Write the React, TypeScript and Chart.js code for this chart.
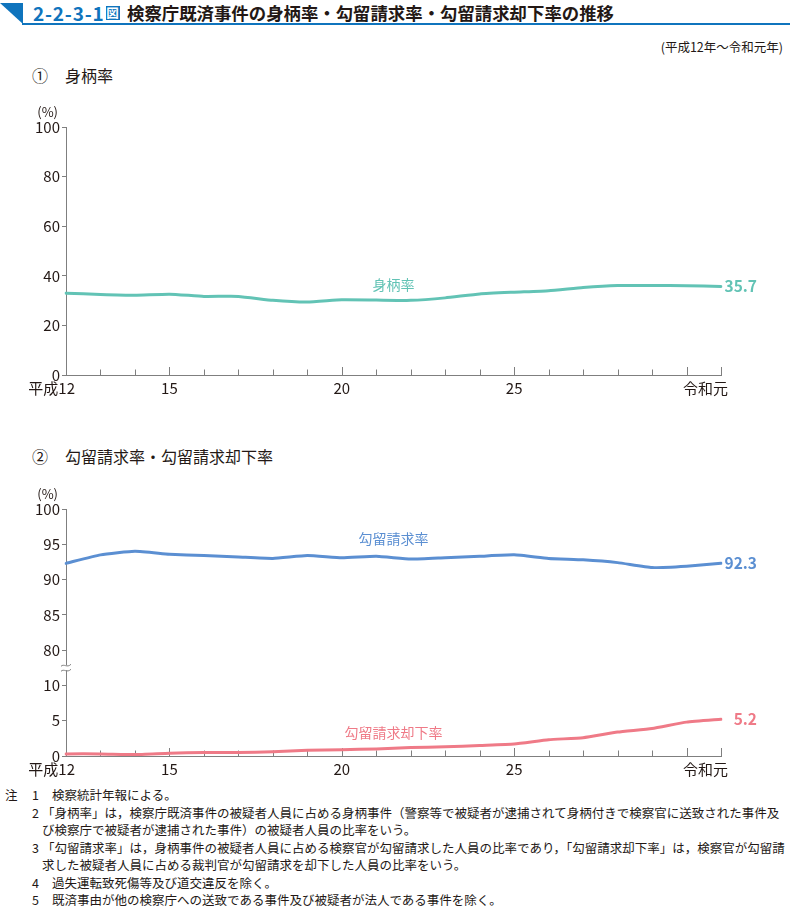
import React, { useEffect, useRef } from 'react';
import { Chart, registerables } from 'chart.js';

Chart.register(...registerables);

// ---- data ----
const categories = ['平成12', '13', '14', '15', '16', '17', '18', '19', '20', '21', '22', '23', '24', '25', '26', '27', '28', '29', '30', '令和元'];
const shownTickLabels = ['平成12', '15', '20', '25', '令和元'];
const majorTicks = ['15', '20', '25', '30', '令和元'];

const mibaraRate = [33.0, 32.5, 32.2, 32.6, 31.7, 31.7, 30.1, 29.4, 30.3, 30.2, 30.1, 31.1, 32.7, 33.4, 34.0, 35.3, 36.1, 36.1, 36.0, 35.7];
const kouryuRate = [92.3, 93.5, 94.0, 93.6, 93.4, 93.2, 93.0, 93.4, 93.1, 93.3, 92.9, 93.1, 93.3, 93.5, 93.0, 92.8, 92.4, 91.7, 91.9, 92.3];
const kyakkaRate = [0.3, 0.3, 0.2, 0.4, 0.5, 0.5, 0.6, 0.8, 0.9, 1.0, 1.2, 1.3, 1.5, 1.7, 2.3, 2.6, 3.4, 3.9, 4.8, 5.2];

const yTicksChart1 = [0, 20, 40, 60, 80, 100];
const yTicksUpper = [80, 85, 90, 95, 100];
const yTicksLower = [0, 5, 10];

const notes = [
  ['注', '1', '検察統計年報による。'],
  ['', '2', '「身柄率」は，検察庁既済事件の被疑者人員に占める身柄事件（警察等で被疑者が逮捕されて身柄付きで検察官に送致された事件及'],
  ['', '', 'び検察庁で被疑者が逮捕された事件）の被疑者人員の比率をいう。'],
  ['', '3', '「勾留請求率」は，身柄事件の被疑者人員に占める検察官が勾留請求した人員の比率であり，「勾留請求却下率」は，検察官が勾留請'],
  ['', '', '求した被疑者人員に占める裁判官が勾留請求を却下した人員の比率をいう。'],
  ['', '4', '過失運転致死傷等及び道交違反を除く。'],
  ['', '5', '既済事由が他の検察庁への送致である事件及び被疑者が法人である事件を除く。'],
];

// ---- style ----
const FONT = "'Noto Sans CJK JP', 'Noto Sans', sans-serif";
const TEAL = '#62c3b5';
const BLUE = '#5b8fd2';
const PINK = '#ef7a87';
const AXIS = '#7f7f7f';
const TEXT = '#231815';
const HEAD = '#0f74bd';

const decoPlugin = {
  id: 'deco',
  beforeDatasetsDraw(chart: any) {
    const ctx = chart.ctx;
    const x = chart.scales.x;
    const yb = chart.chartArea.bottom;
    ctx.save();
    ctx.strokeStyle = AXIS;
    ctx.lineWidth = 1;
    categories.forEach((c, i) => {
      if (i === 0) return;
      const px = Math.round(x.getPixelForValue(i)) + 0.5;
      const len = majorTicks.includes(c) ? 8 : 5.5;
      ctx.beginPath();
      ctx.moveTo(px, yb);
      ctx.lineTo(px, yb - len);
      ctx.stroke();
    });
    ctx.restore();
  },
  afterDraw(chart: any) {
    const ctx = chart.ctx;
    const x = chart.scales.x;
    const area = chart.chartArea;
    const yb = area.bottom;
    const opts = chart.options.plugins.deco || {};
    ctx.save();
    // x labels
    ctx.fillStyle = TEXT;
    ctx.font = `15px ${FONT}`;
    ctx.textBaseline = 'middle';
    categories.forEach((c, i) => {
      if (!shownTickLabels.includes(c)) return;
      const px = x.getPixelForValue(i);
      if (i === 0) {
        ctx.textAlign = 'right';
        ctx.fillText(c, px + 9, yb + 13);
      } else if (i === categories.length - 1) {
        ctx.textAlign = 'right';
        ctx.fillText(c, px + 7, yb + 13);
      } else {
        ctx.textAlign = 'center';
        ctx.fillText(c, px, yb + 13);
      }
    });
    // (%) unit
    ctx.font = `13px ${FONT}`;
    ctx.textAlign = 'right';
    ctx.fillText('(%)', 58, area.top - 15);

    // series labels
    (opts.labels || []).forEach((l: any) => {
      const sc = chart.scales[l.axis];
      ctx.fillStyle = l.color;
      ctx.font = `14px ${FONT}`;
      ctx.textAlign = 'center';
      ctx.fillText(l.text, x.getPixelForValue(l.xIndex), sc.getPixelForValue(l.yValue));
    });

    // end values
    chart.data.datasets.forEach((ds: any) => {
      const sc = chart.scales[ds.yAxisID || 'y'];
      const last = ds.data.length - 1;
      const px = x.getPixelForValue(last);
      ctx.fillStyle = ds.borderColor;
      ctx.font = `600 15.5px ${FONT}`;
      ctx.textAlign = 'right';
      ctx.fillText(ds.data[last].toFixed(1), px + 36, sc.getPixelForValue(ds.data[last]));
    });

    // axis break mark
    if (opts.breakAxis) {
      const up = chart.scales[opts.breakAxis];
      const by = up.bottom;
      const ax = area.left;
      ctx.fillStyle = '#ffffff';
      ctx.fillRect(ax - 5, by - 2.5, 11, 5);
      ctx.strokeStyle = AXIS;
      ctx.lineWidth = 1;
      [-2.5, 2.5].forEach((d) => {
        ctx.beginPath();
        ctx.moveTo(ax - 5, by + d + 1);
        ctx.bezierCurveTo(ax - 2, by + d - 2, ax + 1, by + d + 3, ax + 5, by + d - 1);
        ctx.stroke();
      });
    }
    ctx.restore();
  },
};

function yAxis(ticks: number[], min: number, max: number, extra: any = {}) {
  return {
    min,
    max,
    position: 'left',
    afterBuildTicks: (s: any) => {
      s.ticks = ticks.map((v) => ({ value: v }));
    },
    afterFit: (s: any) => {
      s.width = 66;
    },
    ticks: { font: { family: FONT, size: 15 }, color: TEXT, padding: 2 },
    grid: { display: true, drawOnChartArea: false, drawTicks: true, tickLength: 4, color: AXIS, lineWidth: 1 },
    border: { display: true, color: AXIS, width: 1 },
    ...extra,
  };
}

function xAxis(h: number) {
  return {
    type: 'category',
    offset: false,
    ticks: { display: false },
    grid: { display: false },
    border: { display: true, color: AXIS, width: 1 },
    afterFit: (s: any) => {
      s.height = h;
    },
  };
}

const lineStyle = {
  borderWidth: 3,
  pointRadius: 0,
  tension: 0.15,
  borderJoinStyle: 'round',
  borderCapStyle: 'round',
  fill: false,
};

function ChartCanvas({ config, width, height }: { config: () => any; width: number; height: number }) {
  const ref = useRef<HTMLCanvasElement>(null);
  useEffect(() => {
    const chart = new Chart(ref.current as HTMLCanvasElement, config());
    return () => chart.destroy();
  }, []);
  return <canvas ref={ref} width={width} height={height} style={{ width, height, display: 'block' }} />;
}

const chart1Config = () => ({
  type: 'line',
  data: {
    labels: categories,
    datasets: [{ label: '身柄率', data: mibaraRate, borderColor: TEAL, yAxisID: 'y', ...lineStyle }],
  },
  options: {
    animation: false,
    responsive: false,
    devicePixelRatio: 1,
    layout: { padding: { top: 27, right: 69, left: 0, bottom: 0 } },
    plugins: {
      legend: { display: false },
      tooltip: { enabled: false },
      deco: { labels: [{ text: '身柄率', color: TEAL, xIndex: 9.5, yValue: 36.5, axis: 'y' }] },
    },
    scales: {
      x: xAxis(25),
      y: yAxis(yTicksChart1, 0, 100),
    },
  },
  plugins: [decoPlugin],
});

const chart2Config = () => ({
  type: 'line',
  data: {
    labels: categories,
    datasets: [
      { label: '勾留請求率', data: kouryuRate, borderColor: BLUE, yAxisID: 'yUpper', ...lineStyle },
      { label: '勾留請求却下率', data: kyakkaRate, borderColor: PINK, yAxisID: 'yLower', ...lineStyle },
    ],
  },
  options: {
    animation: false,
    responsive: false,
    devicePixelRatio: 1,
    layout: { padding: { top: 29, right: 69, left: 0, bottom: 0 } },
    plugins: {
      legend: { display: false },
      tooltip: { enabled: false },
      deco: {
        breakAxis: 'yUpper',
        labels: [
          { text: '勾留請求率', color: BLUE, xIndex: 9.5, yValue: 95.75, axis: 'yUpper' },
          { text: '勾留請求却下率', color: PINK, xIndex: 9.5, yValue: 3.3, axis: 'yLower' },
        ],
      },
    },
    scales: {
      x: xAxis(24),
      yLower: yAxis(yTicksLower, 0, 12.5, { stack: 'rates', stackWeight: 12.5 }),
      yUpper: yAxis(yTicksUpper, 77.5, 100, { stack: 'rates', stackWeight: 22.5 }),
    },
  },
  plugins: [decoPlugin],
});

const abs = (left: number, top: number, extra: any = {}) => ({ position: 'absolute' as const, left, top, ...extra });

export default function App() {
  return (
    <div style={{ position: 'absolute', left: 0, top: 0, width: 790, height: 910, background: '#fff', fontFamily: FONT, color: TEXT, overflow: 'hidden' }}>
      {/* header */}
      <div style={abs(0, 3, { width: 23, height: 21, background: HEAD, clipPath: 'polygon(0 0, 100% 0, 100% 100%)' })} />
      <div style={abs(22, 23, { width: 768, height: 2, background: HEAD })} />
      <div style={abs(33, 3, { fontSize: 19, fontWeight: 700, lineHeight: '20px', color: HEAD, whiteSpace: 'nowrap', display: 'flex', alignItems: 'center', letterSpacing: '0.8px' })}>
        <span>2-2-3-1</span>
        <span style={{ display: 'inline-block', background: HEAD, color: '#fff', fontSize: 12.5, lineHeight: '14px', width: 14, height: 14, textAlign: 'center', marginLeft: 1, letterSpacing: 0 }}>図</span>
      </div>
      <div style={abs(127, 3, { fontSize: 17.4, fontWeight: 700, lineHeight: '20px', whiteSpace: 'nowrap' })}>検察庁既済事件の身柄率・勾留請求率・勾留請求却下率の推移</div>
      <div style={{ position: 'absolute', right: 7, top: 38, fontSize: 12.5, lineHeight: '18px', whiteSpace: 'nowrap' }}>(平成12年～令和元年)</div>

      <div style={abs(32, 65, { fontSize: 16, lineHeight: '20px', whiteSpace: 'nowrap' })}>①</div>
      <div style={abs(65, 65, { fontSize: 16, lineHeight: '20px', whiteSpace: 'nowrap' })}>身柄率</div>

      <div style={abs(0, 100)}>
        <ChartCanvas config={chart1Config} width={790} height={300} />
      </div>

      <div style={abs(32, 446, { fontSize: 16, lineHeight: '20px', whiteSpace: 'nowrap' })}>②</div>
      <div style={abs(65, 446, { fontSize: 16, lineHeight: '20px', whiteSpace: 'nowrap' })}>勾留請求率・勾留請求却下率</div>

      <div style={abs(0, 480)}>
        <ChartCanvas config={chart2Config} width={790} height={300} />
      </div>

      {/* notes */}
      {notes.map((n, i) => {
        const top = 786 + i * 17.5;
        const bracket = n[2].startsWith('「') || (n[1] === '' && i > 0);
        return (
          <React.Fragment key={i}>
            {n[0] && <div style={abs(5, top, { fontSize: 12.5, lineHeight: '18px' })}>{n[0]}</div>}
            {n[1] && <div style={abs(32, top, { fontSize: 12.5, lineHeight: '18px' })}>{n[1]}</div>}
            <div style={abs(bracket ? 42 : 52, top, { fontSize: 12.5, lineHeight: '18px', whiteSpace: 'nowrap' })}>{n[2]}</div>
          </React.Fragment>
        );
      })}
    </div>
  );
}
